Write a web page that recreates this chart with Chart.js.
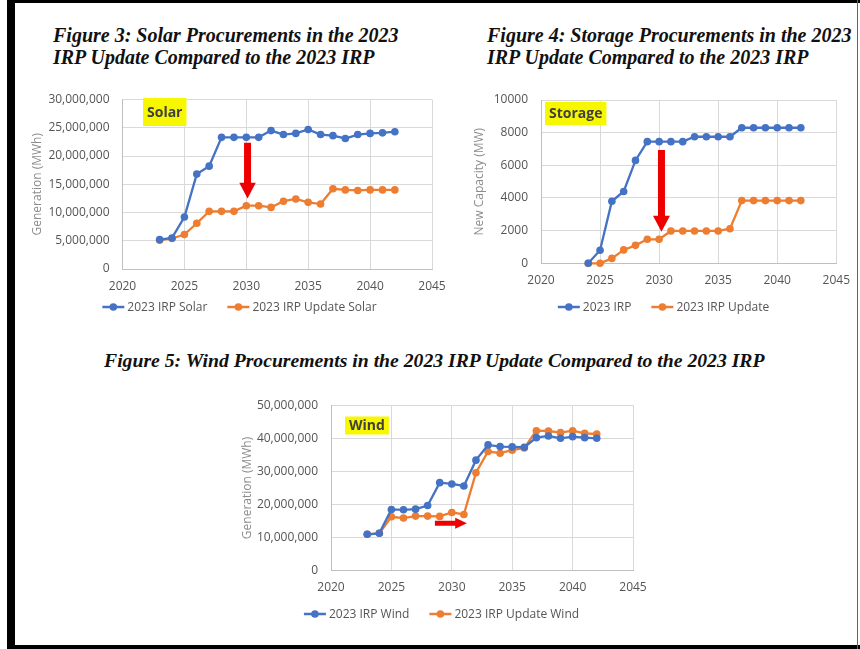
<!DOCTYPE html>
<html>
<head>
<meta charset="utf-8">
<script src="https://cdn.jsdelivr.net/npm/chart.js@4.4.1/dist/chart.umd.min.js"></script>
<style>
  body { margin: 0; background: #fff; }
  #page { position: relative; width: 860px; height: 649px; overflow: hidden; background: #fff; }
  .bar { position: absolute; background: #000; }
  .title { position: absolute; font: italic bold 20px/22.6px "Liberation Serif", serif; color: #111; white-space: nowrap; }
  canvas { position: absolute; }
</style>
</head>
<body>
<div id="page">
  <div class="bar" style="left:7px;top:0;width:8px;height:649px"></div>
  <div class="bar" style="left:7px;top:0;width:853px;height:3px"></div>
  <div class="bar" style="left:7px;top:645px;width:853px;height:4px"></div>
  <div class="bar" style="left:857px;top:0;width:1px;height:649px;background:#666"></div>

  <div class="title" style="left:53px;top:23.6px">Figure 3: Solar Procurements in the 2023<br>IRP Update Compared to the 2023 IRP</div>
  <div class="title" style="left:487px;top:23.6px">Figure 4: Storage Procurements in the 2023<br>IRP Update Compared to the 2023 IRP</div>
  <div class="title" style="left:104px;top:349px;font-size:19.7px">Figure 5: Wind Procurements in the 2023 IRP Update Compared to the 2023 IRP</div>

  <canvas id="solar-chart" width="460" height="260" style="left:0;top:70px"></canvas>
  <canvas id="storage-chart" width="420" height="260" style="left:440px;top:70px"></canvas>
  <canvas id="wind-chart" width="460" height="250" style="left:200px;top:385px"></canvas>
</div>
<script>
// data ----------------------------------------------------------------------
const solarYears = [2023, 2024, 2025, 2026, 2027, 2028, 2029, 2030, 2031, 2032, 2033, 2034, 2035, 2036, 2037, 2038, 2039, 2040, 2041, 2042]
const solarIrp = [5200000, 5500000, 9200000, 16800000, 18200000, 23300000, 23300000, 23300000, 23300000, 24500000, 23800000, 24000000, 24700000, 23800000, 23600000, 23100000, 23800000, 24000000, 24100000, 24300000]
const solarUpdate = [5100000, 5400000, 6100000, 8100000, 10200000, 10200000, 10200000, 11200000, 11200000, 10900000, 12000000, 12400000, 11800000, 11500000, 14200000, 14000000, 13900000, 14000000, 14000000, 14000000]

const storageYears = [2024, 2025, 2026, 2027, 2028, 2029, 2030, 2031, 2032, 2033, 2034, 2035, 2036, 2037, 2038, 2039, 2040, 2041, 2042]
const storageIrp = [0, 800, 3800, 4400, 6300, 7450, 7450, 7450, 7450, 7750, 7750, 7750, 7750, 8300, 8300, 8300, 8300, 8300, 8300]
const storageUpdate = [0, 0, 300, 820, 1100, 1470, 1470, 1980, 1980, 1980, 1980, 1980, 2120, 3840, 3840, 3840, 3840, 3840, 3840]

const windYears = [2023, 2024, 2025, 2026, 2027, 2028, 2029, 2030, 2031, 2032, 2033, 2034, 2035, 2036, 2037, 2038, 2039, 2040, 2041, 2042]
const windIrp = [11000000, 11300000, 18500000, 18400000, 18600000, 19700000, 26600000, 26200000, 25600000, 33400000, 38000000, 37500000, 37400000, 37300000, 40200000, 40700000, 40000000, 40500000, 40200000, 40000000]
const windUpdate = [11000000, 11300000, 16300000, 15900000, 16500000, 16500000, 16400000, 17600000, 17000000, 29600000, 36000000, 35500000, 36400000, 37100000, 42300000, 42200000, 41700000, 42300000, 41500000, 41300000]

const xTicks = [2020, 2045, 5]

const BLUE = '#4472c4'
const ORANGE = '#ed7d31'
const TICK = '#555555'

// extras plugin: yellow tag, red arrow, legend ---------------------------------
const extras = {
    id: 'extras',
    afterDraw(chart, args, opts) {
        const { ctx, chartArea, scales: { x, y } } = chart
        ctx.save()

        // yellow tag
        ctx.font = 'bold 14px "Open Sans"'
        const tw = ctx.measureText(opts.tag).width
        const bx = chartArea.left + opts.tagBox[0]
        const by = chartArea.top + opts.tagBox[1]
        ctx.fillStyle = '#f7f700'
        ctx.fillRect(bx, by, tw + 8, opts.tagBox[2])
        ctx.fillStyle = '#404040'
        ctx.textBaseline = 'middle'
        ctx.textAlign = 'left'
        ctx.fillText(opts.tag, bx + 4, by + opts.tagBox[2] / 2 + 1)

        // red arrow
        const a = opts.arrow
        const x0 = x.getPixelForValue(a.from[0]), y0 = y.getPixelForValue(a.from[1])
        const x1 = x.getPixelForValue(a.to[0]), y1 = y.getPixelForValue(a.to[1])
        const len = Math.hypot(x1 - x0, y1 - y0)
        const ux = (x1 - x0) / len, uy = (y1 - y0) / len
        const nx = -uy, ny = ux
        const hx = x1 - ux * a.head, hy = y1 - uy * a.head
        ctx.fillStyle = '#ee0000'
        ctx.beginPath()
        ctx.moveTo(x0 + nx * a.shaft / 2, y0 + ny * a.shaft / 2)
        ctx.lineTo(hx + nx * a.shaft / 2, hy + ny * a.shaft / 2)
        ctx.lineTo(hx + nx * a.width / 2, hy + ny * a.width / 2)
        ctx.lineTo(x1, y1)
        ctx.lineTo(hx - nx * a.width / 2, hy - ny * a.width / 2)
        ctx.lineTo(hx - nx * a.shaft / 2, hy - ny * a.shaft / 2)
        ctx.lineTo(x0 - nx * a.shaft / 2, y0 - ny * a.shaft / 2)
        ctx.closePath()
        ctx.fill()

        // legend
        ctx.font = '12px "Open Sans"'
        const items = chart.data.datasets.map(d => ({ label: d.label, color: d.borderColor, w: 25 + ctx.measureText(d.label).width }))
        const total = items.reduce((s, it) => s + it.w, 0) + 20 * (items.length - 1)
        let lx = opts.legend[0] - total / 2
        const ly = opts.legend[1]
        items.forEach(it => {
            ctx.strokeStyle = it.color
            ctx.lineWidth = 2.5
            ctx.beginPath()
            ctx.moveTo(lx, ly)
            ctx.lineTo(lx + 22, ly)
            ctx.stroke()
            ctx.fillStyle = it.color
            ctx.beginPath()
            ctx.arc(lx + 11, ly, 3.8, 0, Math.PI * 2)
            ctx.fill()
            ctx.fillStyle = TICK
            ctx.fillText(it.label, lx + 25, ly + 1)
            lx += it.w + 20
        })
        ctx.restore()
    }
}

function series(label, xs, ys, color) {
    return {
        label: label,
        data: xs.map((v, i) => ({ x: v, y: ys[i] })),
        showLine: true,
        borderColor: color,
        backgroundColor: color,
        borderWidth: 2.3,
        pointRadius: 3.8,
        pointHoverRadius: 3.8,
        pointBorderWidth: 0,
        clip: false
    }
}

function makeChart(id, datasets, y, yTitle, box, extra) {
    return new Chart(document.getElementById(id), {
        type: 'scatter',
        data: { datasets: datasets },
        options: {
            responsive: false,
            animation: false,
            events: [],
            layout: { padding: { left: 0, top: box.top, right: box.right, bottom: box.bottom } },
            plugins: {
                legend: { display: false },
                tooltip: { enabled: false },
                extras: extra
            },
            scales: {
                x: {
                    type: 'linear',
                    min: xTicks[0],
                    max: xTicks[1],
                    afterFit: s => { s.height = 30 },
                    grid: { color: '#d9d9d9', drawTicks: false },
                    border: { color: '#bfbfbf' },
                    ticks: { stepSize: xTicks[2], padding: 10, color: TICK, font: { family: 'Open Sans', size: 12 }, callback: v => String(v) }
                },
                y: {
                    min: y[0],
                    max: y[1],
                    afterFit: s => { s.width = box.left },
                    grid: { color: '#d9d9d9', drawTicks: false },
                    border: { color: '#bfbfbf' },
                    title: { display: true, text: yTitle, color: '#8c8c8c', font: { family: 'Open Sans', size: 12 }, padding: { top: box.titleX, bottom: 0 } },
                    ticks: { stepSize: y[2], padding: 13, color: TICK, font: { family: 'Open Sans', size: 12 }, callback: y[3] }
                }
            }
        },
        plugins: [extras]
    })
}

const commas = v => v.toLocaleString('en-US')

// SOLAR -----------------------------------------------------------------------
makeChart('solar-chart',
    [series('2023 IRP Solar', solarYears, solarIrp, BLUE), series('2023 IRP Update Solar', solarYears, solarUpdate, ORANGE)],
    [0, 30000000, 5000000, commas], 'Generation (MWh)',
    { left: 122.5, top: 29.5, right: 28, bottom: 31, titleX: 30.8 },
    { tag: 'Solar', tagBox: [20.5, -1.5, 28], legend: [239.5, 237],
      arrow: { from: [2030.1, 22350000], to: [2030.1, 12500000], shaft: 7, width: 16.5, head: 15.6 } })

// STORAGE ---------------------------------------------------------------------
makeChart('storage-chart',
    [series('2023 IRP', storageYears, storageIrp, BLUE), series('2023 IRP Update', storageYears, storageUpdate, ORANGE)],
    [0, 10000, 2000, v => String(v)], 'New Capacity (MW)',
    { left: 101, top: 30, right: 18, bottom: 36.7, titleX: 32.8 },
    { tag: 'Storage', tagBox: [4, 2, 23], legend: [223.5, 237],
      arrow: { from: [2030.2, 6940], to: [2030.2, 1935], shaft: 7, width: 17, head: 16 } })

// WIND ------------------------------------------------------------------------
makeChart('wind-chart',
    [series('2023 IRP Wind', windYears, windIrp, BLUE), series('2023 IRP Update Wind', windYears, windUpdate, ORANGE)],
    [0, 50000000, 10000000, commas], 'Generation (MWh)',
    { left: 131, top: 16.7, right: 27, bottom: 34.3, titleX: 40.8 },
    { tag: 'Wind', tagBox: [14, 11.3, 18], legend: [241.5, 229],
      arrow: { from: [2028.6, 14300000], to: [2031.25, 14300000], shaft: 5, width: 11, head: 11.7 } })
</script>
</body>
</html>
